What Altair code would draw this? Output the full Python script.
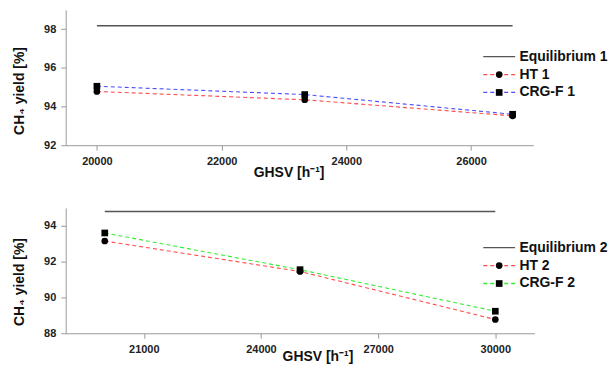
import altair as alt
import pandas as pd

FONT = "Liberation Sans"

# ---- top panel data ----
top_names = ["Equilibrium 1", "HT 1", "CRG-F 1"]
top_colors = ["#555555", "#ff4d4d", "#4d4dff"]
top_x = [20000, 23333, 26667]
top_ht = [94.78, 94.35, 93.52]
top_crg = [95.05, 94.62, 93.60]
top_eq_x = [20000, 26667]
top_eq = [98.18, 98.18]
top_xticks = [20000, 22000, 24000, 26000]
top_yticks = [92, 94, 96, 98]

# ---- bottom panel data ----
bot_names = ["Equilibrium 2", "HT 2", "CRG-F 2"]
bot_colors = ["#555555", "#ff4d4d", "#33ee33"]
bot_x = [20000, 25000, 30000]
bot_ht = [93.15, 91.45, 88.77]
bot_crg = [93.60, 91.55, 89.23]
bot_eq_x = [20000, 30000]
bot_eq = [94.80, 94.80]
bot_xticks = [21000, 24000, 27000, 30000]
bot_yticks = [88, 90, 92, 94]

LINE_SYMBOL = "M-4.77,0H4.77"   # long horizontal stroke for the legend


def panel(names, colors, eq_x, eq_y, xs, ht, crg, xdom, xticks, ydom, yticks,
          w, h, legx, legy, xtitlex, xtitley, ytitley):
    rows = []
    for xv, yv in zip(eq_x, eq_y):
        rows.append({"x": xv, "y": yv, "series": names[0], "kind": "eq"})
    for xv, yv in zip(xs, ht):
        rows.append({"x": xv, "y": yv, "series": names[1], "kind": "data"})
    for xv, yv in zip(xs, crg):
        rows.append({"x": xv, "y": yv, "series": names[2], "kind": "data"})
    df = pd.DataFrame(rows)
    markers = ["m " + n for n in names]
    df["marker"] = "m " + df["series"]

    base = alt.Chart(df)
    xenc = alt.X("x:Q",
                 scale=alt.Scale(domain=xdom, nice=False, zero=False),
                 axis=alt.Axis(values=xticks, format="d", title="GHSV [h⁻¹]",
                               titleX=xtitlex, titleY=xtitley, titleBaseline="alphabetic"))
    yenc = alt.Y("y:Q",
                 scale=alt.Scale(domain=ydom, nice=False, zero=False),
                 axis=alt.Axis(values=yticks, title="CH₄ yield [%]",
                               titleX=-46, titleY=ytitley, titleBaseline="middle"))
    common = dict(orient="none", legendX=legx, legendY=legy, title=None,
                  symbolSize=45, symbolOffset=12.65,
                  labelFont=FONT, labelFontSize=14, labelFontWeight="bold",
                  rowPadding=4, padding=0)
    leg_line = alt.Legend(symbolType=LINE_SYMBOL, symbolStrokeWidth=1.3,
                          labelOffset=13.3, labelColor="#111111", **common)
    leg_shape = alt.Legend(symbolFillColor="black", symbolStrokeColor="black",
                           symbolStrokeWidth=0, labelOpacity=0, labelOffset=2,
                           labelExpr="'.'", **common)
    color = alt.Color("series:N", scale=alt.Scale(domain=names, range=colors), legend=leg_line)
    dash = alt.StrokeDash("series:N",
                          scale=alt.Scale(domain=names, range=[[1, 0], [4, 3], [4, 3]]),
                          legend=leg_line)
    eq = base.transform_filter(alt.datum.kind == "eq").mark_line(strokeWidth=1.6).encode(
        x=xenc, y=yenc, color=color, strokeDash=dash)
    dl = base.transform_filter(alt.datum.kind == "data").mark_line(strokeWidth=1.1).encode(
        x=xenc, y=yenc, color=color, strokeDash=dash)
    pts = base.transform_filter(alt.datum.kind == "data").mark_point(
        filled=True, color="black", size=45, opacity=1).encode(
        x=xenc, y=yenc,
        shape=alt.Shape("marker:N",
                        scale=alt.Scale(domain=markers, range=["M0,0", "circle", "square"]),
                        legend=leg_shape))
    return alt.layer(eq, dl, pts).properties(width=w, height=h)


top = panel(top_names, top_colors, top_eq_x, top_eq, top_x, top_ht, top_crg,
            [19500, 27000], top_xticks, [92, 99], top_yticks,
            470, 136, 416, 40, 224, 31, 81)
bot = panel(bot_names, bot_colors, bot_eq_x, bot_eq, bot_x, bot_ht, bot_crg,
            [19000, 31000], bot_xticks, [88, 95], bot_yticks,
            471, 126, 416, 33, 253, 27, 74)

chart = alt.vconcat(top, bot, spacing=29).resolve_scale(
    color="independent", strokeDash="independent", shape="independent",
    x="independent", y="independent"
).resolve_legend(color="independent", strokeDash="independent", shape="independent").properties(
    padding={"left": 5, "top": 1, "right": 0, "bottom": 0}
).configure_view(stroke=None).configure_axis(
    grid=False, domainColor="#999999", tickColor="#999999", tickSize=5,
    labelPadding=5, labelFont=FONT, labelFontSize=11, labelFontWeight="bold",
    labelColor="#222222", titleFont=FONT, titleFontSize=14, titleFontWeight="bold",
    titleColor="#111111"
)

chart.save("out.html", embed_options={"renderer": "svg", "actions": False})
